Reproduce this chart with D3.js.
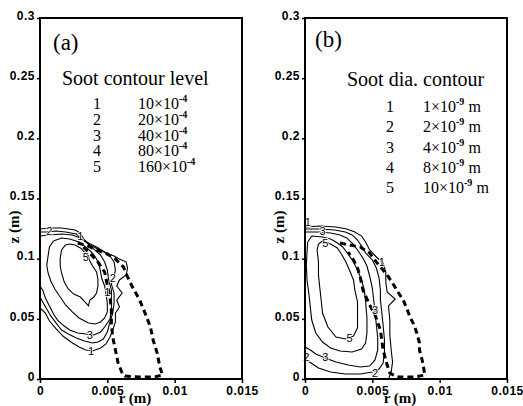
<!DOCTYPE html>
<html>
<head>
<meta charset="utf-8">
<script src="https://cdn.jsdelivr.net/npm/d3@7"></script>
<style>
body { margin: 0; background: #fff; }
</style>
</head>
<body>
<div id="soot-figure"></div>
<script>
// ticks, shared by both panels
var r_ticks = [0, 0.005, 0.01, 0.015];
var r_tick_labels = ['0', '0.005', '0.01', '0.015'];
var z_ticks = [0, 0.05, 0.1, 0.15, 0.2, 0.25, 0.3];
var z_tick_labels = ['0', '0.05', '0.1', '0.15', '0.2', '0.25', '0.3'];

// legend entries
var level_ids = ['1', '2', '3', '4', '5'];
var fv_levels = ['10', '20', '40', '80', '160'];   // x 10^-4
var dia_levels = ['1', '2', '4', '8', '10'];       // x 10^-9 m

// (a) soot volume fraction contours, [r (m), z (m)]
var fv_contour_1 = [[0,0.1247],[0.0007,0.1255],[0.0016,0.1255],[0.0026,0.1238],[0.0030,0.1213],[0.0033,0.1155],
    [0.0037,0.1114],[0.0043,0.1080],[0.0049,0.1047],[0.0055,0.1022],[0.0059,0.0997],[0.0064,0.0972],[0.0065,0.0922],
    [0.0064,0.0864],[0.0059,0.0823],[0.0057,0.0773],[0.0061,0.0715],[0.0057,0.0656],[0.0059,0.0598],[0.0056,0.0548],
    [0.0056,0.0474],[0.0054,0.0407],[0.0052,0.0349],[0.0049,0.0291],[0.0045,0.0258],[0.0039,0.0233],[0.0034,0.0241],
    [0.0029,0.0266],[0.0023,0.0307],[0.0017,0.0357],[0.0012,0.0416],[0.0007,0.0482],[0.0004,0.0548],[0,0.0590]];
var fv_contour_2 = [[0,0.1222],[0.0005,0.1222],[0.0012,0.1230],[0.0019,0.1222],[0.0027,0.1205],[0.0031,0.1163],
    [0.0036,0.1130],[0.0042,0.1097],[0.0048,0.1055],[0.0052,0.1022],[0.0055,0.0972],[0.0056,0.0906],[0.0055,0.0848],
    [0.0053,0.0789],[0.0055,0.0715],[0.0055,0.0632],[0.0054,0.0548],[0.0052,0.0474],[0.0050,0.0391],[0.0047,0.0332],
    [0.0043,0.0307],[0.0039,0.0299],[0.0033,0.0316],[0.0027,0.0341],[0.0021,0.0374],[0.0016,0.0407],[0.0012,0.0465],
    [0.0008,0.0524],[0.0005,0.0582],[0.0002,0.0640],[0,0.0681]];
var fv_contour_3 = [[0,0.1188],[0.0007,0.1197],[0.0016,0.1205],[0.0024,0.1197],[0.0030,0.1172],[0.0035,0.1130],
    [0.0040,0.1080],[0.0045,0.1030],[0.0048,0.0972],[0.0050,0.0906],[0.0051,0.0823],[0.0053,0.0740],[0.0053,0.0656],
    [0.0053,0.0573],[0.0052,0.0499],[0.0048,0.0432],[0.0045,0.0391],[0.0040,0.0366],[0.0034,0.0374],[0.0028,0.0382],
    [0.0022,0.0407],[0.0018,0.0440],[0.0013,0.0490],[0.0010,0.0540],[0.0007,0.0607],[0.0004,0.0673],[0.0002,0.0740],
    [0,0.0773]];
var fv_contour_4 = [[0.0010,0.1147],[0.0007,0.1097],[0.0006,0.1022],[0.0005,0.0947],[0.0006,0.0881],[0.0008,0.0814],
    [0.0011,0.0748],[0.0015,0.0681],[0.0019,0.0615],[0.0024,0.0557],[0.0029,0.0507],[0.0036,0.0465],[0.0041,0.0457],
    [0.0045,0.0474],[0.0048,0.0507],[0.0050,0.0557],[0.0050,0.0632],[0.0049,0.0706],[0.0048,0.0773],[0.0046,0.0831],
    [0.0045,0.0889],[0.0044,0.0939],[0.0042,0.0997],[0.0039,0.1047],[0.0034,0.1097],[0.0029,0.1138],[0.0022,0.1163],
    [0.0016,0.1172],[0.0010,0.1147]];
var fv_contour_5 = [[0.0019,0.1114],[0.0016,0.1072],[0.0015,0.1006],[0.0015,0.0939],[0.0016,0.0881],[0.0018,0.0806],
    [0.0021,0.0748],[0.0025,0.0706],[0.0030,0.0681],[0.0034,0.0632],[0.0036,0.0607],[0.0037,0.0656],[0.0040,0.0681],
    [0.0042,0.0715],[0.0043,0.0773],[0.0043,0.0831],[0.0042,0.0889],[0.0039,0.0939],[0.0037,0.0981],[0.0036,0.1022],
    [0.0033,0.1055],[0.0030,0.1089],[0.0026,0.1114],[0.0022,0.1122],[0.0019,0.1114]];
var fv_label_pos = [[0.0007,0.1225,'2'],[0.0030,0.1185,'1'],[0.0034,0.1010,'5'],[0.0054,0.0840,'2'],
    [0.0050,0.0720,'1'],[0.0037,0.0366,'3'],[0.0038,0.0233,'1']];

// (b) soot diameter contours, [r (m), z (m)]
var dia_contour_1 = [[0,0.1263],[0.0011,0.1271],[0.0023,0.1263],[0.0031,0.1247],[0.0037,0.1222],[0.0042,0.1188],
    [0.0045,0.1138],[0.0048,0.1072],[0.0053,0.1014],[0.0058,0.0964],[0.0060,0.0889],[0.0060,0.0806],[0.0061,0.0723],
    [0.0067,0.0665],[0.0062,0.0607],[0.0063,0.0490],[0.0063,0.0366],[0.0064,0.0241],[0.0065,0.0141],[0.0064,0.0058],
    [0.0062,0]];
var dia_contour_2 = [[0,0.1247],[0.0011,0.1247],[0.0022,0.1238],[0.0030,0.1222],[0.0035,0.1197],[0.0039,0.1155],
    [0.0042,0.1105],[0.0045,0.1047],[0.0050,0.0989],[0.0053,0.0922],[0.0055,0.0839],[0.0056,0.0740],[0.0056,0.0656],
    [0.0057,0.0557],[0.0058,0.0449],[0.0059,0.0324],[0.0059,0.0224],[0.0058,0.0133],[0.0055,0.0083],[0.0050,0.0058],
    [0.0041,0.0042],[0.0030,0.0042],[0.0019,0.0058],[0.0010,0.0091],[0.00045,0.0133],[0,0.0166]];
var dia_contour_3 = [[0,0.1222],[0.0010,0.1222],[0.0019,0.1213],[0.0026,0.1197],[0.0031,0.1172],[0.0035,0.1130],
    [0.0039,0.1072],[0.0043,0.1006],[0.0046,0.0939],[0.0048,0.0856],[0.0050,0.0756],[0.0051,0.0656],[0.0052,0.0557],
    [0.0053,0.0449],[0.0054,0.0341],[0.0054,0.0241],[0.0052,0.0158],[0.0048,0.0108],[0.0041,0.0100],[0.0032,0.0116],
    [0.0023,0.0141],[0.0015,0.0175],[0.0008,0.0208],[0.0004,0.0241],[0,0.0266]];
var dia_contour_4 = [[0.0005,0.1188],[0.0002,0.1138],[0.00015,0.1055],[0.0001,0.0947],[0.00015,0.0823],[0.0003,0.0698],
    [0.0004,0.0590],[0.0005,0.0490],[0.0008,0.0382],[0.0013,0.0307],[0.0019,0.0258],[0.0026,0.0233],[0.0035,0.0224],
    [0.0042,0.0249],[0.0045,0.0299],[0.0046,0.0382],[0.0046,0.0507],[0.0045,0.0640],[0.0044,0.0740],[0.0042,0.0823],
    [0.0039,0.0906],[0.0036,0.0972],[0.0032,0.1039],[0.0028,0.1097],[0.0023,0.1138],[0.0019,0.1163],[0.0013,0.1180],
    [0.0005,0.1188]];
var dia_contour_5 = [[0.0013,0.1147],[0.0010,0.1122],[0.0009,0.1072],[0.0010,0.0972],[0.0010,0.0864],[0.0011,0.0756],
    [0.0012,0.0656],[0.0013,0.0548],[0.0017,0.0432],[0.0023,0.0349],[0.0030,0.0332],[0.0036,0.0357],[0.0039,0.0424],
    [0.0039,0.0532],[0.0039,0.0640],[0.0037,0.0740],[0.0036,0.0823],[0.0033,0.0906],[0.0030,0.0981],[0.0027,0.1039],
    [0.0024,0.1089],[0.0019,0.1122],[0.0013,0.1147]];
var dia_label_pos = [[0.0002,0.1300,'1'],[0.0013,0.1230,'3'],[0.0015,0.1125,'5'],[0.0057,0.0972,'1'],
    [0.0052,0.0573,'3'],[0.0033,0.0340,'5'],[0.0015,0.0183,'3'],[0.0001,0.0183,'2'],[0.0052,0.0050,'2']];

// flame boundary (dashed)
var flame_a = [[0.0028,0.1130],[0.0036,0.1105],[0.0042,0.1072],[0.0050,0.1039],[0.0056,0.0997],[0.0062,0.0931],
    [0.0065,0.0848],[0.0069,0.0756],[0.0074,0.0656],[0.0078,0.0548],[0.0082,0.0432],[0.0084,0.0324],[0.0087,0.0216],
    [0.0089,0.0100],[0.0091,0.0033],[0.0085,0.0017],[0.0074,0.0017],[0.0063,0.0025],[0.0061,0.0050],[0.0058,0.0133],
    [0.0056,0.0241],[0.0054,0.0349],[0.0053,0.0465],[0.0053,0.0573],[0.0052,0.0681],[0.0050,0.0781],[0.0048,0.0889],
    [0.0043,0.0972],[0.0037,0.1047],[0.0032,0.1097]];
var flame_b = [[0.0026,0.1130],[0.0033,0.1114],[0.0041,0.1097],[0.0048,0.1047],[0.0053,0.0972],[0.0058,0.0906],
    [0.0062,0.0848],[0.0065,0.0798],[0.0069,0.0723],[0.0073,0.0656],[0.0076,0.0573],[0.0078,0.0515],[0.0081,0.0449],
    [0.0083,0.0382],[0.0085,0.0299],[0.0085,0.0241],[0.0087,0.0158],[0.0088,0.0100],[0.0089,0.0033],[0.0082,0.0017],
    [0.0074,0.0017],[0.0068,0.0017],[0.0063,0.0050],[0.0061,0.0116],[0.0058,0.0241],[0.0056,0.0407],[0.0052,0.0532],
    [0.0048,0.0615],[0.0043,0.0740],[0.0041,0.0848],[0.0039,0.0922],[0.0036,0.0989],[0.0032,0.1055]];

var fig_soot = {
    width: 523,
    height: 406,

    // plot frame of each panel
    top: 18,
    bottom: 379,
    plot_width: 202,

    svg: null,

    panels: [
        {
            left: 40, tag: '(a)', title: 'Soot contour level',
            contours: [fv_contour_1, fv_contour_2, fv_contour_3, fv_contour_4, fv_contour_5],
            flame: flame_a, labels: fv_label_pos,
            values: fv_levels, exp: '-4', unit: '',
            tag_x: 13, tag_y: 50, title_x: 22, title_y: 85,
            id_x: 57, value_x: 98, row_y: 109, row_step: 15.75
        },
        {
            left: 305, tag: '(b)', title: 'Soot dia. contour',
            contours: [dia_contour_1, dia_contour_2, dia_contour_3, dia_contour_4, dia_contour_5],
            flame: flame_b, labels: dia_label_pos,
            values: dia_levels, exp: '-9', unit: ' m',
            tag_x: 10, tag_y: 47, title_x: 42, title_y: 86,
            id_x: 85, value_x: 118, row_y: 112, row_step: 20.25
        }
    ],

    init: function() {
        this.svg = d3.select('#soot-figure')
            .append('svg')
            .attr('width', this.width)
            .attr('height', this.height)
            .style('display', 'block')
            .style('background', '#fff');
    },

    draw: function() {
        var self = this;
        this.panels.forEach(function(p) {
            var x = d3.scaleLinear().domain([0, 0.015]).range([p.left, p.left + self.plot_width]);
            var y = d3.scaleLinear().domain([0, 0.3]).range([self.bottom, self.top]);
            var g = self.svg.append('g');
            self._draw_lines(g, p, x, y);
            self._draw_axes(g, p, x, y);
            self._draw_legend(g, p);
        });
    },

    _draw_lines: function(g, p, x, y) {
        var line = d3.line()
            .x(d => x(d[0]))
            .y(d => y(d[1]));

        // contour lines
        g.append('g')
            .selectAll('path')
            .data(p.contours)
            .enter()
            .append('path')
            .attr('d', line)
            .attr('fill', 'none')
            .attr('stroke', '#000')
            .attr('stroke-width', 1.1);

        // flame sheet, thick dashes
        g.append('path')
            .datum(p.flame)
            .attr('d', line)
            .attr('fill', 'none')
            .attr('stroke', '#000')
            .attr('stroke-width', 3)
            .attr('stroke-dasharray', '6,4');

        // level numbers on the contours
        g.append('g')
            .selectAll('text')
            .data(p.labels)
            .enter()
            .append('text')
            .attr('x', d => x(d[0]))
            .attr('y', d => y(d[1]))
            .attr('dy', '0.35em')
            .attr('text-anchor', 'middle')
            .attr('font-family', 'Liberation Sans, Arial, sans-serif')
            .attr('font-size', 11)
            .attr('fill', '#000')
            .attr('stroke', '#fff')
            .attr('stroke-width', 1.5)
            .attr('paint-order', 'stroke')
            .text(d => d[2]);
    },

    _draw_axes: function(g, p, x, y) {
        var x_axis = d3.axisBottom(x)
            .tickValues(r_ticks)
            .tickFormat((d, i) => r_tick_labels[i])
            .tickSize(4)
            .tickPadding(2);
        var y_axis = d3.axisLeft(y)
            .tickValues(z_ticks)
            .tickFormat((d, i) => z_tick_labels[i])
            .tickSize(3)
            .tickPadding(2);

        var ax = g.append('g')
            .attr('transform', 'translate(0,' + this.bottom + ')')
            .call(x_axis);
        var ay = g.append('g')
            .attr('transform', 'translate(' + p.left + ',0)')
            .call(y_axis);

        [ax, ay].forEach(function(a) {
            a.select('.domain').remove();
            a.selectAll('line').attr('stroke', '#000').attr('stroke-width', 1.5);
            a.selectAll('text')
                .attr('fill', '#000')
                .attr('font-family', 'Liberation Sans, Arial, sans-serif')
                .attr('font-weight', 'bold')
                .attr('font-size', 12)
                .attr('letter-spacing', 0.5);
        });
        ax.selectAll('text').attr('dy', '0.8em');
        ay.selectAll('text').attr('dy', '0.1em');

        // frame
        g.append('rect')
            .attr('x', p.left)
            .attr('y', this.top)
            .attr('width', this.plot_width)
            .attr('height', this.bottom - this.top)
            .attr('fill', 'none')
            .attr('stroke', '#000')
            .attr('stroke-width', 2);

        // axis titles
        g.append('text')
            .attr('x', p.left + 95)
            .attr('y', 403)
            .attr('text-anchor', 'middle')
            .attr('font-family', 'Liberation Serif, Times New Roman, serif')
            .attr('font-weight', 'bold')
            .attr('font-size', 15)
            .text('r (m)');
        g.append('text')
            .attr('transform', 'translate(' + (p.left - 21) + ',227) rotate(-90)')
            .attr('text-anchor', 'middle')
            .attr('font-family', 'Liberation Serif, Times New Roman, serif')
            .attr('font-weight', 'bold')
            .attr('font-size', 15)
            .text('z (m)');
    },

    _draw_legend: function(g, p) {
        var serif = 'Liberation Serif, Times New Roman, serif';
        g.append('text')
            .attr('x', p.left + p.tag_x)
            .attr('y', p.tag_y)
            .attr('font-family', serif)
            .attr('font-size', 23)
            .text(p.tag);
        g.append('text')
            .attr('x', p.left + p.title_x)
            .attr('y', p.title_y)
            .attr('font-family', serif)
            .attr('font-size', 20)
            .text(p.title);

        var rows = g.append('g')
            .selectAll('g')
            .data(level_ids)
            .enter()
            .append('g');

        rows.append('text')
            .attr('x', p.left + p.id_x)
            .attr('y', (d, i) => p.row_y + i * p.row_step)
            .attr('text-anchor', 'middle')
            .attr('font-family', serif)
            .attr('font-size', 16)
            .text(d => d);

        rows.append('text')
            .attr('x', p.left + p.value_x)
            .attr('y', (d, i) => p.row_y + i * p.row_step)
            .attr('font-family', serif)
            .attr('font-size', 16)
            .each(function(d, i) {
                var t = d3.select(this);
                t.append('tspan').text(p.values[i] + '\u00d710');
                t.append('tspan')
                    .attr('dy', -7)
                    .attr('font-size', 10)
                    .attr('font-weight', 'bold')
                    .text(p.exp);
                if (p.unit) {
                    t.append('tspan').attr('dy', 7).text(p.unit);
                }
            });
    }
};

fig_soot.init();
fig_soot.draw();
</script>
</body>
</html>
